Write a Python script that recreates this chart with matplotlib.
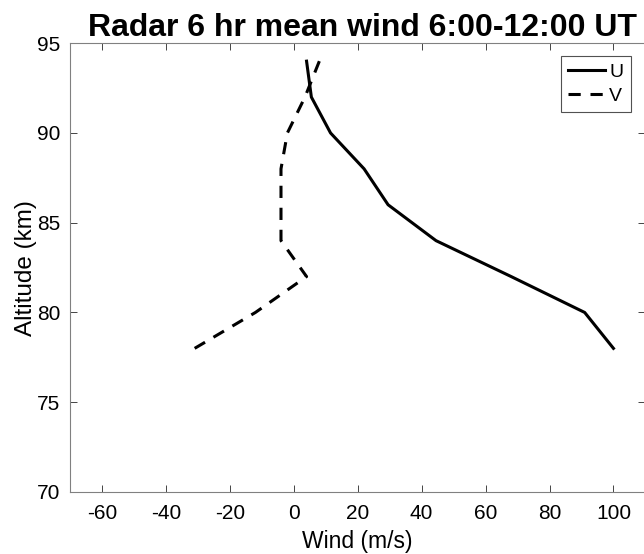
"""
Radar 6 hr mean wind profile (U / V) vs altitude.
"""

import matplotlib
matplotlib.use("Agg")
import matplotlib.pyplot as plt

plt.rcParams["font.family"] = ["Liberation Sans", "DejaVu Sans"]
plt.rcParams["axes.unicode_minus"] = False

# ── 数据 ──
altitude = [94, 92, 90, 88, 86, 84, 82, 80, 78]
u_wind = [4, 5.5, 11.5, 22, 29.5, 44.5, 68, 91, 100]
v_wind = [8, 3.5, -2, -4, -4, -4, 4, -12, -31]

AX_COLOR = "#262626"

fig = plt.figure(figsize=(6.44, 5.54), dpi=100)
ax = fig.add_axes([0.1087, 0.112, 0.8935, 0.810])

ax.plot(u_wind, altitude, "-", color="black", linewidth=2.2, label="U")
ax.plot(v_wind, altitude, "--", color="black", linewidth=2.2,
        dashes=(4, 3.2), label="V")

ax.set_xlim(-70, 110)
ax.set_ylim(70, 95)
ax.set_xticks(range(-60, 101, 20))
ax.set_yticks(range(70, 96, 5))

ax.set_xlabel("Wind (m/s)", fontsize=16.5, labelpad=5)
ax.set_ylabel("Altitude (km)", fontsize=17.5, labelpad=0)
ax.set_title("Radar 6 hr mean wind 6:00-12:00 UT", fontsize=23,
             fontweight="bold", pad=5, x=0.508)

ax.tick_params(direction="in", top=True, right=True, length=5,
               width=0.6, color=AX_COLOR, labelsize=15)
ax.tick_params(axis="x", pad=9)
ax.tick_params(axis="y", pad=7)
for sp in ax.spines.values():
    sp.set_color("#808080")
    sp.set_linewidth(0.8)

leg = ax.legend(loc="upper right", fontsize=14, frameon=True,
                fancybox=False, handlelength=1.9, borderpad=0.4,
                labelspacing=0.3, handletextpad=0.2, borderaxespad=0.3,
                bbox_to_anchor=(0.985, 0.985))
leg.get_frame().set_edgecolor(AX_COLOR)
leg.get_frame().set_linewidth(0.8)

plt.savefig("out.png", dpi=100)
plt.close()
